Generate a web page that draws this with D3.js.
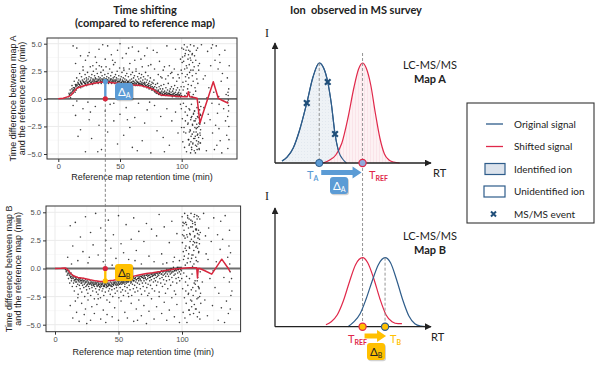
<!DOCTYPE html>
<html><head><meta charset="utf-8">
<script src="https://cdn.jsdelivr.net/npm/d3@7"></script>
<style>body{margin:0;background:#fff}svg{display:block}</style>
</head><body>
<script>
// ---------------- DATA ----------------
const xTicks = [0, 50, 100];
const yTicks = [-5, -2.5, 0, 2.5, 5];
// scatter rows: flat pairs [rt, diff, rt, diff, ...]
const scatterA = [
[8.2,0.2,8.7,0.5,9.3,0.3,9.6,0.8,9.9,0.1,10.4,0.6,10.8,0.4,11.1,1.2,11.5,0.7,11.9,0.5,12.2,1.0,12.6,0.8,12.9,1.6,13.3,0.9,13.6,0.6,13.9,1.3,14.3,1.1,14.6,0.8,14.9,1.9,15.2,1.2,15.6,1.0,15.9,1.5],
[16.3,1.1,16.6,1.7,16.9,1.3,17.3,2.3,17.6,1.2,17.9,1.6,18.2,1.0,18.5,1.4,18.8,2.0,19.2,1.3,19.5,1.7,19.8,1.1,20.1,2.6,20.5,1.5,20.8,1.2,21.1,1.8,21.4,1.4,21.7,2.2,22.1,1.3,22.4,1.6,22.7,1.9,23.0,1.2,23.4,1.5,23.7,2.4,24.0,1.4,24.3,1.8,24.6,1.3,24.9,2.0,25.3,1.6,25.6,1.3,25.9,2.9],
[26.2,1.5,26.5,1.9,26.8,1.4,27.2,2.2,27.5,1.6,27.8,1.3,28.1,1.8,28.4,2.5,28.8,1.5,29.1,1.7,29.4,2.1,29.7,1.4,30.0,1.9,30.4,1.6,30.7,2.7,31.0,1.5,31.3,1.8,31.6,2.3,32.0,1.6,32.3,1.4,32.6,2.0,32.9,1.7,33.2,3.0,33.6,1.5,33.9,1.9,34.2,1.6,34.5,2.4,34.8,1.4,35.2,1.8,35.5,2.1,35.8,1.6],
[36.1,1.7,36.4,2.6,36.7,1.5,37.1,1.9,37.4,1.6,37.7,2.2,38.0,1.4,38.4,1.8,38.7,2.9,39.0,1.6,39.3,2.0,39.6,1.5,40.0,1.7,40.3,2.3,40.6,1.4,40.9,1.9,41.3,1.6,41.6,2.7,41.9,1.5,42.2,1.8,42.5,2.1,42.9,1.6,43.2,1.4,43.5,2.4,43.8,1.7,44.2,1.5,44.5,1.9,44.8,3.1,45.1,1.6,45.5,2.0,45.8,1.4],
[46.1,1.7,46.4,2.2,46.8,1.5,47.1,1.9,47.4,1.3,47.7,2.5,48.0,1.6,48.4,1.8,48.7,1.4,49.0,2.1,49.3,1.6,49.7,2.8,50.0,1.5,50.3,1.8,50.6,1.3,51.0,2.0,51.3,1.5,51.6,2.4,51.9,1.7,52.3,1.4,52.6,1.9,52.9,1.6,53.2,2.6,53.6,1.4,53.9,1.8,54.2,1.5,54.5,2.1,54.9,1.3,55.2,1.7,55.5,2.3,55.8,1.5],
[56.2,1.6,56.5,1.3,56.8,2.0,57.1,1.5,57.5,2.7,57.8,1.4,58.1,1.7,58.4,1.2,58.8,2.2,59.1,1.5,59.4,1.8,59.7,1.3,60.1,2.4,60.4,1.6,60.7,1.4,61.0,1.9,61.4,1.3,61.7,2.1,62.0,1.5,62.3,1.2,62.7,1.7,63.0,2.5,63.3,1.4,63.6,1.6,63.9,1.2,64.3,2.0,64.6,1.5,64.9,1.3,65.2,1.8,65.6,2.3,65.9,1.4],
[66.2,1.2,66.5,1.6,66.9,1.9,67.2,1.3,67.5,2.2,67.8,1.5,68.1,1.2,68.5,1.7,68.8,1.4,69.1,2.0,69.4,1.1,69.8,1.5,70.1,1.3,70.4,1.8,70.7,2.4,71.0,1.2,71.4,1.5,71.7,1.0,72.0,1.7,72.3,1.3,72.7,2.1,73.0,1.1,73.3,1.4,73.6,0.9,74.0,1.6,74.3,1.2,74.6,1.9,74.9,1.0,75.2,1.3,75.6,0.8,75.9,1.5],
[76.2,1.1,76.5,0.8,76.8,1.4,77.2,0.9,77.5,1.7,77.8,0.7,78.1,1.1,78.4,0.6,78.8,1.3,79.1,0.8,79.4,0.5,79.7,1.0,80.0,0.7,80.4,1.4,80.7,0.5,81.0,0.8,81.3,0.4,81.7,1.1,82.0,0.6,82.3,0.4,82.6,0.9,83.0,0.5,83.3,1.2,83.6,0.3,83.9,0.7,84.3,0.4,84.6,0.9,84.9,0.3,85.2,0.6,85.5,1.3,85.9,0.4],
[86.2,0.7,86.5,0.3,86.8,0.5,87.2,1.0,87.5,0.4,87.8,0.6,88.1,0.3,88.5,0.8,88.8,0.4,89.1,1.4,89.4,0.5,89.8,0.3,90.1,0.7,90.4,0.4,90.7,0.9,91.1,0.3,91.4,0.6,91.7,1.1,92.0,0.4,92.4,0.2,92.7,0.7,93.0,0.4,93.3,0.9,93.7,0.3,94.0,0.5,94.3,1.2,94.6,0.3,95.0,0.6,95.3,0.2,95.6,0.8,95.9,0.4,96.3,0.3,96.6,1.0,96.9,0.5,97.2,0.2,97.6,0.6,97.9,0.3,98.2,0.8,98.5,0.4,98.9,0.2,99.2,0.5,99.5,1.1,99.8,0.3],
[9.05,0.4,10.15,0.5,11.05,0.9,12.15,0.8,13.05,1.0,14.15,1.2,15.05,1.3,16.15,1.4,17.05,1.3,18.15,1.5,19.05,1.4,20.15,1.6,21.05,1.5,22.15,1.4,23.05,1.7,24.15,1.5,25.05,1.6,26.15,1.7,27.05,1.5,28.15,1.7,29.05,1.6,30.15,1.8,31.05,1.6,32.15,1.7,33.05,1.8,34.15,1.7,35.05,1.6,36.15,1.8,37.05,1.7,38.15,1.6,39.05,1.8,40.15,1.7,41.05,1.6,42.15,1.7,43.05,1.8,44.15,1.6,45.05,1.7,46.15,1.6,47.05,1.7,48.15,1.5,49.05,1.6,50.15,1.7,51.05,1.5,52.15,1.6,53.05,1.5,54.15,1.6,55.05,1.4,56.15,1.5,57.05,1.6,58.15,1.4,59.05,1.5,60.15,1.4,61.05,1.6,62.15,1.4,63.05,1.3,64.15,1.5,65.05,1.4,66.15,1.3,67.05,1.4,68.15,1.3,69.05,1.2,70.15,1.4,71.05,1.2,72.15,1.1,73.05,1.2,74.15,1.0,75.05,1.1,76.15,0.9,77.05,1.0,78.15,0.8,79.05,0.7,80.15,0.6,81.05,0.7,82.15,0.5,83.05,0.6,84.15,0.5,85.05,0.4,86.15,0.5,87.05,0.3,88.15,0.5,89.05,0.3,90.15,0.5,91.05,0.4,92.15,0.3,93.05,0.5,94.15,0.3,95.05,0.4,96.15,0.2,97.05,0.4,98.15,0.3,99.05,0.2],
[12,4.8,15,4.6,18,3.9,22,3.5,25,4.2,28,3.0,30,3.8,33,4.5,36,4.9,38,3.6,40,4.8,43,4.0,46,3.3,48,4.4,50,5.0,52,3.7,55,4.1,58,3.2,60,4.7,62,3.5,65,4.3,68,2.9,70,3.9,72,4.6,75,3.1,78,2.7,80,4.2,82,3.4,85,2.6,88,4.8,90,3.0,92,2.4,95,4.5,97,2.2,99,3.6,14,3.2,20,2.9,24,3.9,31,3.3,35,2.9,44,3.5,53,2.8,57,4.6,63,2.7,67,3.6,73,3.0,77,4.4,83,2.0,87,1.8,93,1.9,96,1.6,86,2.9,91,2.3,84,1.9,81,2.2,89,2.1,94,2.7,98,1.9],
[12,-0.6,14,-1.5,16,-3.4,18,-2.8,20,-0.9,22,-4.8,25,-1.9,27,-3.6,30,-0.7,33,-2.4,35,-4.6,38,-1.1,40,-3.0,42,-0.5,45,-2.0,48,-4.1,50,-1.4,53,-3.3,55,-0.8,58,-2.6,60,-4.4,62,-1.7,65,-0.4,68,-3.8,70,-2.2,72,-1.0,75,-4.9,78,-0.6,80,-2.9,83,-1.6,85,-3.5,88,-0.9,90,-4.2,92,-2.0,95,-1.2,97,-3.1,99,-0.5,15,-0.2,24,-0.3,45,-0.4,32,-4.8,64,-4.7,86,-4.8,26,-1.2,56,-1.9,74,-0.3],
[100.1,4.6,100.3,2.3,100.5,-1.8,100.7,3.8,100.9,-3.9,101.0,1.5,101.2,0.8,101.4,-0.4,101.6,3.4,101.8,1.1,101.9,-2.6,102.1,4.9,102.3,-4.4,102.4,2.7,102.6,0.3,102.8,-1.2,102.9,4.1,103.1,2.0,103.3,-3.1,103.4,1.6,103.6,-0.7,103.8,3.0,103.9,-4.8,104.1,0.5,104.3,2.8,104.4,4.7,104.6,-1.5,104.8,0.9,104.9,-2.3,105.1,3.6,105.3,1.3,105.4,-3.7,105.6,4.4,105.8,1.9,105.9,-0.9,106.1,3.1,106.3,-4.1,106.4,2.4,106.6,0.6,106.8,-2.8,106.9,3.7,107.1,4.9,107.3,-1.9,107.4,2.6,107.6,-3.4,107.8,1.2,107.9,-0.5,108.1,-4.6,108.3,0.2,108.4,4.0,108.6,2.1,108.8,-2.4,108.9,3.3,109.1,-4.0,109.3,1.6,109.4,0.4,109.6,-1.3,109.8,-3.0,109.9,4.8],
[110.1,2.9,110.3,-1.1,110.4,3.9,110.6,-3.6,110.8,1.0,110.9,-2.0,111.1,-4.9,111.3,0.7,111.4,3.5,111.6,2.3,111.8,-2.7,111.9,4.4,112.1,-4.3,112.3,1.8,112.4,-0.8,112.6,-3.3,112.8,-1.6,112.9,4.6,113.1,1.4,113.3,-1.7,113.4,3.0,113.6,-3.9,113.8,2.6,113.9,-2.5,114.1,-4.5,114.3,-0.3,114.4,3.2,114.6,-2.2,114.8,-3.1,114.9,-4.0,115.1,-1.4,115.3,-2.8],
[105.2,-2.2,105.7,-3.7,106.0,-4.2,106.5,-1.0,107.0,-2.9,107.5,-3.9,107.7,-1.7,108.0,-4.4,108.5,-3.2,108.7,-2.3,109.0,-4.1,109.5,-1.4,109.7,-3.6,110.0,-2.0,110.2,-4.7,110.5,-1.1,110.7,-2.6,111.0,-3.4,111.2,-4.2,111.5,-1.8,111.7,-3.0,112.0,-3.8,112.2,-2.3,112.5,-4.6,112.7,-2.6,113.0,-3.2,113.2,-4.1,113.5,-1.3,113.7,-3.5,114.0,-2.2,114.2,-4.6,114.5,-1.0,114.7,-2.3,115.0,-3.3,115.2,-4.0,115.4,-1.5,115.5,-0.7,106.2,-3.0,107.2,-4.9,108.2,-1.6],
[100.4,3.3,101.5,4.5,102.5,3.9,103.5,4.4,104.5,2.2,105.5,4.0,106.7,4.3,107.4,3.5,108.6,4.1,109.2,2.6,103.0,-2.0,101.7,-3.0,99.7,-0.9,99.9,-2.6,99.6,2.6],
[116,4.9,117,-3.6,118,-0.8,119,2.1,120,-4.7,121,4.3,118.5,-2.2,122,1.0,123,-1.9,124,4.6,125,-3.1,126,0.6,127,3.5,128,4.8,128.5,-4.2,129,-1.3,129.5,2.7,130,0.2,130.3,-0.5,130.6,4.0,130.2,-2.7,131,3.3,131.2,-3.8,132,1.6,132.5,-4.9,133,2.3,134,-0.9,135,4.4,135.5,-2.0,136,0.4,136.5,-3.3,137,1.9,137.2,-0.3,137.5,0.6,137.8,-0.1,138,-1.1,138.2,-2.5,138.5,3.0,137.4,-4.5,138.3,-3.7,137.7,0.3,137.9,-0.6,138.1,0.9,137.3,-1.6,120.5,0.1,124.5,-0.4,126.5,-4.6,123.5,3.0,117.5,1.8,121.5,-1.4,125,4.9,127.5,-2.4]
];
const scatterB = [
[8.3,-0.1,8.8,-0.3,9.2,0.0,9.5,-0.6,9.9,-0.2,10.3,-0.4,10.6,-0.9,10.9,-0.2,11.3,-0.6,11.6,-1.3,11.9,-0.5,12.3,-0.8,12.6,-0.4,12.9,-1.1,13.3,-0.7,13.6,-1.6,13.9,-0.6,14.3,-0.9,14.6,-1.3,14.9,-0.7,15.2,-2.0,15.6,-1.0,15.9,-0.8],
[16.3,-1.2,16.6,-0.9,16.9,-1.6,17.3,-1.0,17.6,-0.8,17.9,-1.4,18.2,-2.3,18.5,-1.1,18.8,-0.9,19.2,-1.5,19.5,-1.0,19.8,-1.8,20.1,-0.9,20.5,-1.3,20.8,-1.1,21.1,-2.1,21.4,-1.0,21.7,-1.5,22.1,-1.2,22.4,-0.9,22.7,-1.7,23.0,-1.1,23.4,-2.5,23.7,-1.3,24.0,-1.0,24.3,-1.6,24.6,-1.2,24.9,-1.9,25.3,-1.1,25.6,-1.4,25.9,-2.2],
[26.2,-1.2,26.5,-1.6,26.8,-1.0,27.2,-1.8,27.5,-1.3,27.8,-1.1,28.1,-2.4,28.4,-1.4,28.8,-1.2,29.1,-1.7,29.4,-1.3,29.7,-2.0,30.0,-1.2,30.4,-1.5,30.7,-1.3,31.0,-2.7,31.3,-1.4,31.6,-1.2,32.0,-1.8,32.3,-1.4,32.6,-2.1,32.9,-1.3,33.2,-1.6,33.6,-1.2,33.9,-2.3,34.2,-1.5,34.5,-1.3,34.8,-1.9,35.2,-1.4,35.5,-1.7,35.8,-2.6],
[36.1,-1.3,36.4,-1.6,36.7,-1.4,37.1,-2.0,37.4,-1.3,37.7,-1.8,38.0,-1.5,38.4,-2.4,38.7,-1.3,39.0,-1.6,39.3,-1.4,39.6,-2.1,40.0,-1.3,40.3,-1.7,40.6,-1.5,40.9,-2.8,41.3,-1.3,41.6,-1.6,41.9,-1.4,42.2,-2.0,42.5,-1.3,42.9,-1.8,43.2,-1.5,43.5,-2.3,43.8,-1.2,44.2,-1.6,44.5,-1.3,44.8,-1.9,45.1,-1.4,45.5,-2.5,45.8,-1.2],
[46.1,-1.5,46.4,-1.3,46.8,-1.8,47.1,-1.2,47.4,-2.2,47.7,-1.4,48.0,-1.2,48.4,-1.7,48.7,-1.3,49.0,-2.0,49.3,-1.1,49.7,-1.5,50.0,-1.2,50.3,-2.6,50.6,-1.4,51.0,-1.1,51.3,-1.7,51.6,-1.3,51.9,-2.1,52.3,-1.0,52.6,-1.4,52.9,-1.2,53.2,-1.9,53.6,-1.1,53.9,-2.4,54.2,-1.3,54.5,-1.0,54.9,-1.6,55.2,-1.2,55.5,-2.0,55.8,-0.9],
[56.2,-1.3,56.5,-1.1,56.8,-1.7,57.1,-0.9,57.5,-2.2,57.8,-1.2,58.1,-1.0,58.4,-1.5,58.8,-0.9,59.1,-1.9,59.4,-1.1,59.7,-1.3,60.1,-0.8,60.4,-2.4,60.7,-1.0,61.0,-1.4,61.4,-0.8,61.7,-1.8,62.0,-1.1,62.3,-0.9,62.7,-1.5,63.0,-2.1,63.3,-0.8,63.6,-1.2,63.9,-1.0,64.3,-1.7,64.6,-0.7,64.9,-1.3,65.2,-2.0,65.6,-0.9,65.9,-1.1],
[66.2,-0.7,66.5,-1.4,66.9,-0.9,67.2,-1.8,67.5,-0.7,67.8,-1.1,68.1,-2.3,68.5,-0.8,68.8,-1.3,69.1,-0.6,69.4,-1.6,69.8,-0.9,70.1,-1.1,70.4,-0.6,70.7,-2.0,71.0,-0.8,71.4,-1.3,71.7,-0.6,72.0,-1.0,72.3,-1.7,72.7,-0.5,73.0,-0.9,73.3,-1.4,73.6,-0.6,74.0,-2.2,74.3,-0.8,74.6,-1.1,74.9,-0.5,75.2,-1.5,75.6,-0.7,75.9,-1.0],
[76.2,-0.5,76.5,-1.8,76.8,-0.7,77.2,-0.4,77.5,-1.2,77.8,-0.6,78.1,-0.9,78.4,-2.0,78.8,-0.5,79.1,-1.1,79.4,-0.4,79.7,-0.8,80.0,-1.5,80.4,-0.4,80.7,-0.7,81.0,-1.2,81.3,-0.3,81.7,-0.6,82.0,-2.1,82.3,-0.4,82.6,-0.9,83.0,-0.3,83.3,-1.3,83.6,-0.5,83.9,-0.2,84.3,-0.8,84.6,-1.6,84.9,-0.3,85.2,-0.6,85.5,-1.0,85.9,-0.2],
[86.2,-0.5,86.5,-1.4,86.8,-0.2,87.2,-0.7,87.5,-0.3,87.8,-1.1,88.1,-0.1,88.5,-0.5,88.8,-1.8,89.1,-0.2,89.4,-0.7,89.8,-0.1,90.1,-1.0,90.4,-0.3,90.7,-0.5,91.1,-1.5,91.4,0.0,91.7,-0.4,92.0,-0.8,92.4,-0.1,92.7,-1.2,93.0,-0.3,93.3,0.1,93.7,-0.6,94.0,-2.0,94.3,-0.2,94.6,-0.5,95.0,0.0,95.3,-0.9,95.6,-0.2,95.9,-1.3,96.3,0.1,96.6,-0.4,96.9,-0.1,97.2,-0.8,97.6,0.1,97.9,-0.3,98.2,-1.1,98.5,0.0,98.9,-0.5,99.2,0.1,99.5,-0.2,99.8,-0.9],
[9.05,-0.2,10.15,-0.5,11.05,-0.4,12.15,-0.7,13.05,-0.9,14.15,-0.8,15.05,-1.1,16.15,-1.0,17.05,-1.2,18.15,-1.0,19.05,-1.2,20.15,-1.1,21.05,-1.3,22.15,-1.1,23.05,-1.4,24.15,-1.2,25.05,-1.5,26.15,-1.3,27.05,-1.4,28.15,-1.3,29.05,-1.5,30.15,-1.4,31.05,-1.6,32.15,-1.3,33.05,-1.5,34.15,-1.4,35.05,-1.6,36.15,-1.5,37.05,-1.4,38.15,-1.6,39.05,-1.5,40.15,-1.4,41.05,-1.6,42.15,-1.5,43.05,-1.4,44.15,-1.5,45.05,-1.6,46.15,-1.4,47.05,-1.3,48.15,-1.5,49.05,-1.4,50.15,-1.3,51.05,-1.4,52.15,-1.2,53.05,-1.3,54.15,-1.2,55.05,-1.4,56.15,-1.1,57.05,-1.2,58.15,-1.1,59.05,-1.0,60.15,-1.2,61.05,-1.0,62.15,-1.1,63.05,-0.9,64.15,-1.0,65.05,-0.9,66.15,-0.8,67.05,-1.0,68.15,-0.7,69.05,-0.8,70.15,-0.7,71.05,-0.9,72.15,-0.6,73.05,-0.7,74.15,-0.6,75.05,-0.8,76.15,-0.5,77.05,-0.6,78.15,-0.5,79.05,-0.6,80.15,-0.4,81.05,-0.5,82.15,-0.4,83.05,-0.3,84.15,-0.5,85.05,-0.3,86.15,-0.2,87.05,-0.4,88.15,-0.2,89.05,-0.3,90.15,-0.1,91.05,-0.2,92.15,-0.3,93.05,-0.1,94.15,-0.2,95.05,-0.1,96.15,0.0,97.05,-0.1,98.15,0.0,99.05,-0.1],
[12,-3.3,14,-4.4,16,-2.9,17,-3.9,19,-4.7,21,-3.1,23,-4.1,24,-3.6,26,-2.8,28,-4.6,29,-3.4,31,-4.0,33,-3.2,36,-4.5,38,-3.7,40,-4.8,43,-3.0,45,-4.3,47,-3.5,50,-4.6,52,-2.9,55,-3.9,57,-4.4,60,-3.1,62,-4.7,64,-3.6,66,-2.8,68,-4.2,70,-3.3,72,-4.9,74,-3.8,76,-2.7,78,-4.5,80,-3.4,82,-2.5,84,-4.0,86,-3.0,88,-4.6,90,-3.7,92,-2.6,94,-4.3,96,-3.2,98,-4.8,18,-2.6,34,-2.7,58,-2.5,73,-2.4,87,-2.2,95,-2.3,25,-4.9,41,-4.1,65,-4.6],
[10,1.0,12,3.8,14,2.0,16,4.1,18,0.7,20,2.8,22,1.5,24,4.6,26,0.5,28,3.2,30,2.1,32,4.9,34,1.2,36,3.6,38,0.6,40,2.5,42,4.3,44,1.8,46,3.0,48,0.9,50,4.7,52,2.2,54,1.4,56,3.9,58,0.8,60,2.6,62,4.5,64,1.6,66,3.3,68,0.4,70,2.4,72,4.0,74,1.1,76,3.5,78,0.6,80,2.9,82,4.8,84,1.3,86,3.7,88,0.5,90,2.3,92,4.2,94,1.0,96,3.1,98,0.7,13,0.4,27,1.0,45,0.3,63,0.7,85,0.4,93,0.6],
[100.1,4.6,100.3,2.3,100.5,-1.8,100.7,3.8,100.9,-3.9,101.0,1.5,101.2,0.8,101.4,-0.4,101.6,3.4,101.8,1.1,101.9,-2.6,102.1,4.9,102.3,-4.4,102.4,2.7,102.6,0.3,102.8,-1.2,102.9,4.1,103.1,2.0,103.3,-3.1,103.4,1.6,103.6,-0.7,103.8,3.0,103.9,-4.8,104.1,0.5,104.3,2.8,104.4,4.7,104.6,-1.5,104.8,0.9,104.9,-2.3,105.1,3.6,105.3,1.3,105.4,-3.7,105.6,4.4,105.8,1.9,105.9,-0.9,106.1,3.1,106.3,-4.1,106.4,2.4,106.6,0.6,106.8,-2.8,106.9,3.7,107.1,4.9,107.3,-1.9,107.4,2.6,107.6,-3.4,107.8,1.2,107.9,-0.5,108.1,4.2,108.3,0.2,108.4,4.0,108.6,2.1,108.8,-2.4,108.9,3.3,109.1,-4.0,109.3,1.6,109.4,0.4,109.6,-1.3,109.8,2.8,109.9,4.8],
[110.1,2.9,110.3,-1.1,110.4,3.9,110.6,-3.6,110.8,1.0,110.9,-2.0,111.1,3.4,111.3,0.7,111.4,3.5,111.6,2.3,111.8,-2.7,111.9,4.4,112.1,-4.3,112.3,1.8,112.4,-0.8,112.6,2.7,112.8,-1.6,112.9,4.6,113.1,1.4,113.3,-1.7,113.4,3.0,113.6,-3.9,113.8,2.6,113.9,-2.5,114.1,-4.5,114.3,-0.3,114.4,3.2,114.6,-2.2,114.8,-3.1],
[105.2,-2.2,105.7,-3.7,106.0,1.8,106.5,3.0,107.0,4.3,107.5,0.9,107.7,-2.9,108.0,3.7,108.5,-1.7,108.7,1.2,109.0,2.4,109.5,4.6,109.7,-3.2,110.0,2.3,110.2,4.1,110.5,-1.4,110.7,3.5,111.0,1.9,111.2,-3.6,111.5,2.0,111.7,4.7,112.0,-1.1,112.2,3.1,112.5,0.6,112.7,-2.6,113.0,3.4,113.2,1.5,113.5,-1.8,113.7,2.2,114.0,4.4,103.0,-2.0,101.7,4.0,102.5,1.8,103.5,3.9,104.5,4.5,100.4,3.0,101.5,2.9,100.8,4.1],
[117,4.9,118,-2.8,119,1.3,120,-4.2,121,3.6,122,-0.9,123,2.4,124,-3.3,125,4.5,126,-1.7,127,0.6,128,3.0,128.5,-4.6,129,-2.2,130,1.7,130.5,4.2,131,-3.5,132,2.6,133,-0.8,134,4.7,135,-2.9,136,1.0,136.5,-4.0,137,2.0,137.3,-1.2,137.6,0.4,137.9,-0.3,138.2,1.4,138.5,-2.4,137.4,3.4,138,-3.6,139,-0.9,120.5,0.8,124.5,-0.2,116,-1.2,118.5,2.9,133.5,-4.8,139.3,-2.0]
];
const shiftLineA = [[0,0],[4,0.05],[8,0.2],[10,0.3],[13,0.7],[15,0.95],[18,1.1],[23,1.25],[28,1.4],[34,1.5],[40,1.5],[44,1.45],
[50,1.38],[55,1.32],[61,1.25],[67,1.2],[72,1.05],[77,0.85],[80,0.6],[83,0.35],[88,0.3],[93,0.25],[98,0.22],[103,0.18],
[104.5,0.2],[105.4,0.64],[106.5,0.2],[110,0.12],[112.5,0.05],[114.8,-2.2],[117,-1.4],[125.6,1.55],[129.7,0.04],[133,-0.15],[137.8,-0.4]];
const shiftLineB = [[0,0],[5,0.02],[8,0.05],[10,-0.1],[12,-0.4],[14.4,-0.65],[18,-0.8],[22.3,-0.86],[27.6,-1.0],[32,-1.1],
[35.4,-1.15],[38,-1.15],[42,-1.1],[46,-1.05],[50,-0.95],[55,-0.85],[61.4,-0.7],[67,-0.56],[72,-0.45],[77,-0.38],[82.7,-0.27],
[88,-0.15],[94,-0.05],[101,0.03],[106,0.06],[111.6,0.06],[112.2,-0.85],[112.8,0.0],[114,0.0],[118,-0.2],[123.4,-0.5],
[131.3,0.83],[136.5,0.0],[137.8,-0.27]];
const deltaA = {rt: 38.1, diff: 1.57};
const deltaB = {rt: 39.6, diff: -1.1};
// schematic peaks: [RT, intensity]
const originalA = [[4.6,0.02],[8,0.06],[12,0.15],[16,0.32],[20.9,0.6],[25,0.86],[29.1,1.0],[32,0.95],[34.7,0.81],[37,0.6],[39.5,0.29],[42,0.11],[45,0.03],[47,0.0]];
const shiftedA = [[31.6,0.0],[36,0.03],[40,0.08],[44,0.2],[48,0.45],[52,0.76],[55,0.94],[57.6,1.0],[60,0.95],[63,0.78],[66,0.5],[69,0.25],[72,0.09],[75,0.03],[78,0.01],[82,0.0]];
const msmsA = [[20.9,0.6],[34.7,0.81],[39.5,0.29]];
const shiftedB = [[33.5,0.02],[37,0.05],[41,0.12],[45,0.26],[49,0.45],[53,0.62],[57.6,0.69],[61,0.64],[65,0.48],[69,0.28],[73,0.12],[77,0.05],[81,0.03],[83.5,0.03]];
const originalB = [[48,0.0],[52,0.05],[56,0.13],[60,0.28],[64,0.46],[68,0.62],[72.4,0.69],[76,0.64],[80,0.47],[84,0.27],[88,0.11],[92,0.03],[96,0.005],[99,0.0]];
const rtA = {orig: 29.1, ref: 57.6};
const rtB = {ref: 57.6, orig: 72.4};
const legendItems = ["Original signal","Shifted signal","Identified ion","Unidentified ion","MS/MS event"];

// ---------------- DRAW ----------------
const W = 602, H = 365;
const svg = d3.select("body").append("svg").attr("width", W).attr("height", H);
svg.append("rect").attr("width", W).attr("height", H).attr("fill", "#fff");
const defs = svg.append("defs");
const pd = defs.append("pattern").attr("id","dotsBlue").attr("width",3).attr("height",3).attr("patternUnits","userSpaceOnUse");
pd.append("rect").attr("width",3).attr("height",3).attr("fill","#EEF2F6");
pd.append("circle").attr("cx",1.5).attr("cy",1.5).attr("r",0.4).attr("fill","#D3DCE6");
const ps = defs.append("pattern").attr("id","stripesRed").attr("width",3).attr("height",3).attr("patternUnits","userSpaceOnUse");
ps.append("rect").attr("width",3).attr("height",3).attr("fill","#FDF1F3");
ps.append("line").attr("x1",1.5).attr("x2",1.5).attr("y1",0).attr("y2",3).attr("stroke","#F9DCE2").attr("stroke-width",0.6);
const mk = defs.append("marker").attr("id","arrowK").attr("viewBox","0 0 10 10").attr("refX",9).attr("refY",5)
  .attr("markerWidth",7).attr("markerHeight",7).attr("markerUnits","userSpaceOnUse").attr("orient","auto");
mk.append("path").attr("d","M0,0L10,5L0,10Z").attr("fill","#222");

const RED = "#D7263D", BLUE = "#5B9BD5", DBLUE = "#2E5C8A", YEL = "#FFC000", SRED = "#E0284A";
const GG = "'Liberation Sans', Arial, sans-serif";
const CAL = "Lato, 'Open Sans', sans-serif";

function toPairs(rows){
  const out = [];
  rows.forEach(r => { for (let i = 0; i + 1 < r.length; i += 2) out.push([r[i], r[i+1]]); });
  return out;
}

function scatterPanel(cfg){
  const {x, y, data, line, left, right, top, bottom, ylab1, ylab2, ylx1, ylx2} = cfg;
  const g = svg.append("g");
  [25,75,125].forEach(v => g.append("line").attr("x1",x(v)).attr("x2",x(v)).attr("y1",top).attr("y2",bottom).attr("stroke","#F3F3F3").attr("stroke-width",0.5));
  [-3.75,-1.25,1.25,3.75].forEach(v => g.append("line").attr("y1",y(v)).attr("y2",y(v)).attr("x1",left).attr("x2",right).attr("stroke","#F3F3F3").attr("stroke-width",0.5));
  xTicks.forEach(v => g.append("line").attr("x1",x(v)).attr("x2",x(v)).attr("y1",top).attr("y2",bottom).attr("stroke","#EBEBEB").attr("stroke-width",1));
  yTicks.forEach(v => g.append("line").attr("y1",y(v)).attr("y2",y(v)).attr("x1",left).attr("x2",right).attr("stroke","#EBEBEB").attr("stroke-width",1));
  g.append("line").attr("x1",left).attr("x2",right).attr("y1",y(0)).attr("y2",y(0)).attr("stroke","#6E6E6E").attr("stroke-width",1.8);
  const pts = toPairs(data);
  g.append("g").selectAll("circle").data(pts).join("circle")
    .attr("cx", d => x(d[0])).attr("cy", d => y(d[1])).attr("r", 0.8).attr("fill", "#1a1a1a").attr("opacity", 0.85);
  g.append("path").datum(line).attr("d", d3.line().x(d => x(d[0])).y(d => y(d[1])))
    .attr("fill","none").attr("stroke",RED).attr("stroke-width",1.5).attr("stroke-linejoin","round");
  g.append("rect").attr("x",left).attr("y",top).attr("width",right-left).attr("height",bottom-top)
    .attr("fill","none").attr("stroke","#333").attr("stroke-width",1);
  const ax = g.append("g").attr("transform",`translate(0,${bottom})`).call(d3.axisBottom(x).tickValues(xTicks).tickSize(3).tickPadding(2).tickFormat(d3.format("d")));
  const ay = g.append("g").attr("transform",`translate(${left},0)`).call(d3.axisLeft(y).tickValues(yTicks).tickSize(3).tickPadding(2).tickFormat(d3.format(".1f")));
  [ax, ay].forEach(a => { a.select(".domain").remove(); a.selectAll("line").attr("stroke","#333");
    a.selectAll("text").attr("fill","#4D4D4D").style("font-family",GG).style("font-size","7.5px"); });
  g.append("text").attr("x",(left+right)/2).attr("y",cfg.xlabY).attr("text-anchor","middle")
    .style("font-family",GG).style("font-size","9px").attr("fill","#222").text("Reference map retention time (min)");
  const cy = (top+bottom)/2;
  g.append("text").attr("transform",`translate(${ylx1},${cy}) rotate(-90)`).attr("text-anchor","middle")
    .style("font-family",GG).style("font-size","9px").attr("fill","#222").text(ylab1);
  g.append("text").attr("transform",`translate(${ylx2},${cy}) rotate(-90)`).attr("text-anchor","middle")
    .style("font-family",GG).style("font-size","9px").attr("fill","#222").text(ylab2);
  return g;
}

const xA = d3.scaleLinear().domain([0,100]).range([58.3,181.7]);
const yA = d3.scaleLinear().domain([-5,5]).range([154,43.7]);
const xB = d3.scaleLinear().domain([0,100]).range([55,182]);
const yB = d3.scaleLinear().domain([-5,5]).range([324.7,212.3]);

scatterPanel({x:xA, y:yA, data:scatterA, line:shiftLineA, left:47, right:237, top:38, bottom:159, xlabY:180,
  ylab1:"Time difference between map A", ylab2:"and the reference map (min)", ylx1:16, ylx2:25});
scatterPanel({x:xB, y:yB, data:scatterB, line:shiftLineB, left:46, right:240.6, top:206, bottom:331.7, xlabY:355,
  ylab1:"Time difference between map B", ylab2:"and the reference map (min)", ylx1:12, ylx2:21});

const dx = xA(deltaA.rt);
svg.append("line").attr("x1",dx).attr("x2",dx).attr("y1",yA(0)).attr("y2",yB(0))
  .attr("stroke","#777").attr("stroke-width",0.9).attr("stroke-dasharray","3,2");

function deltaBox(x0, y0, fill, txtCol, sub){
  const g = svg.append("g");
  g.append("rect").attr("x",x0+1).attr("y",y0+1.2).attr("width",18).attr("height",17).attr("rx",3).attr("fill","#000").attr("opacity",0.18);
  g.append("rect").attr("x",x0).attr("y",y0).attr("width",18).attr("height",17).attr("rx",3).attr("fill",fill);
  const t = g.append("text").attr("x",x0+3).attr("y",y0+12.5).style("font-family",CAL).attr("fill",txtCol);
  t.append("tspan").style("font-size","11.5px").text("Δ");
  t.append("tspan").style("font-size","7px").attr("dy",2.5).text(sub);
}
svg.append("line").attr("x1",dx).attr("x2",dx).attr("y1",yA(0)).attr("y2",yA(deltaA.diff)).attr("stroke",BLUE).attr("stroke-width",2.4);
svg.append("circle").attr("cx",dx).attr("cy",yA(deltaA.diff)).attr("r",2.6).attr("fill",BLUE);
svg.append("circle").attr("cx",dx).attr("cy",yA(0)).attr("r",2.6).attr("fill",RED);
deltaBox(115,83,BLUE,"#fff","A");
const dxB = xB(deltaB.rt);
svg.append("line").attr("x1",dxB).attr("x2",dxB).attr("y1",yB(0)).attr("y2",yB(deltaB.diff)).attr("stroke",YEL).attr("stroke-width",2.4);
svg.append("circle").attr("cx",dxB).attr("cy",yB(deltaB.diff)).attr("r",2.6).attr("fill",YEL);
svg.append("circle").attr("cx",dxB).attr("cy",yB(0)).attr("r",2.6).attr("fill",RED);
deltaBox(115,264,YEL,"#222","B");

svg.append("text").attr("x",145).attr("y",14).attr("text-anchor","middle").style("font-family",CAL).style("font-weight","bold").style("font-size","11px").attr("fill","#222").text("Time shifting");
svg.append("text").attr("x",145).attr("y",27).attr("text-anchor","middle").style("font-family",CAL).style("font-weight","bold").style("font-size","11px").attr("fill","#222").text("(compared to reference map)");
svg.append("text").attr("x",356).attr("y",14).attr("text-anchor","middle").style("font-family",CAL).style("font-weight","bold").style("font-size","11px").attr("fill","#222").attr("xml:space","preserve").text("Ion  observed in MS survey");

// ---------------- schematic ----------------
const sx = d3.scaleLinear().domain([0,100]).range([275,427]);
const syA = d3.scaleLinear().domain([0,1]).range([163,63]);
const syB = d3.scaleLinear().domain([0,1]).range([326.7,226.7]);
const curve = d3.curveMonotoneX;

function axes(ys, topY){
  svg.append("line").attr("x1",sx(0)).attr("x2",sx(0)).attr("y1",ys(0)).attr("y2",topY).attr("stroke","#222").attr("stroke-width",1.3).attr("marker-end","url(#arrowK)");
  svg.append("line").attr("x1",sx(0)).attr("x2",431).attr("y1",ys(0)).attr("y2",ys(0)).attr("stroke","#222").attr("stroke-width",1.3).attr("marker-end","url(#arrowK)");
}
function peak(data, ys, stroke, fill){
  if (fill) svg.append("path").datum(data).attr("d", d3.area().curve(curve).x(d=>sx(d[0])).y0(ys(0)).y1(d=>ys(d[1]))).attr("fill",fill);
  svg.append("path").datum(data).attr("d", d3.line().curve(curve).x(d=>sx(d[0])).y(d=>ys(d[1]))).attr("fill","none").attr("stroke",stroke).attr("stroke-width",1.2);
}
function dash(x, y1, y2){
  svg.append("line").attr("x1",x).attr("x2",x).attr("y1",y1).attr("y2",y2).attr("stroke","#888").attr("stroke-width",0.9).attr("stroke-dasharray","3,2");
}
function tLabel(x, y, col, sub){
  const t = svg.append("text").attr("x",x).attr("y",y).style("font-family",CAL).attr("fill",col);
  t.append("tspan").style("font-size","11px").text("T");
  t.append("tspan").style("font-size","7px").style("font-weight","bold").attr("dy",2).text(sub);
}
function arrowShape(x1, x2, yc, col){
  const hw = 2.6, hh = 6, hl = 9;
  svg.append("path").attr("d",`M${x1},${yc-hw}L${x2-hl},${yc-hw}L${x2-hl},${yc-hh}L${x2},${yc}L${x2-hl},${yc+hh}L${x2-hl},${yc+hw}L${x1},${yc+hw}Z`).attr("fill",col);
}

peak(originalA, syA, DBLUE, "url(#dotsBlue)");
peak(shiftedA, syA, SRED, "url(#stripesRed)");
svg.append("path").datum(originalA).attr("d", d3.line().curve(curve).x(d=>sx(d[0])).y(d=>syA(d[1]))).attr("fill","none").attr("stroke",DBLUE).attr("stroke-width",1.1);
dash(sx(rtA.orig), syA(1), syA(0));
dash(sx(rtA.ref), 53, syB(0));
axes(syA, 43);
svg.selectAll(null).data(msmsA).join("path")
  .attr("d", d => { const cx = sx(d[0]), cy = syA(d[1]), s = 2.8; return `M${cx-s},${cy-s}L${cx+s},${cy+s}M${cx-s},${cy+s}L${cx+s},${cy-s}`; })
  .attr("stroke","#1F4E79").attr("stroke-width",2.2);
svg.append("circle").attr("cx",sx(rtA.orig)).attr("cy",syA(0)).attr("r",3.6).attr("fill",BLUE).attr("stroke",DBLUE).attr("stroke-width",1);
svg.append("circle").attr("cx",sx(rtA.ref)).attr("cy",syA(0)).attr("r",3.6).attr("fill","#8FAADC").attr("stroke",SRED).attr("stroke-width",1.2);
tLabel(307, 179, BLUE, "A");
tLabel(369, 179, SRED, "REF");
arrowShape(sx(rtA.orig)+2, sx(rtA.ref)-1, 172.5, BLUE);
deltaBox(330,177,BLUE,"#fff","A");
svg.append("text").attr("x",265).attr("y",37).style("font-family","'Liberation Serif', serif").style("font-size","12px").attr("fill","#222").text("I");
svg.append("text").attr("x",433).attr("y",177).style("font-family",CAL).style("font-size","11px").attr("fill","#222").text("RT");
svg.append("text").attr("x",430).attr("y",69).attr("text-anchor","middle").style("font-family",CAL).style("font-size","11px").attr("fill","#222").text("LC-MS/MS");
svg.append("text").attr("x",430).attr("y",83).attr("text-anchor","middle").style("font-family",CAL).style("font-weight","bold").style("font-size","11px").attr("fill","#222").text("Map A");

peak(shiftedB, syB, SRED, null);
peak(originalB, syB, DBLUE, null);
dash(sx(rtB.orig), syB(0.69), syB(0));
axes(syB, 208);
svg.append("circle").attr("cx",sx(rtB.ref)).attr("cy",syB(0)).attr("r",3.6).attr("fill",YEL).attr("stroke",SRED).attr("stroke-width",1.2);
svg.append("circle").attr("cx",sx(rtB.orig)).attr("cy",syB(0)).attr("r",3.6).attr("fill",YEL).attr("stroke",DBLUE).attr("stroke-width",1.2);
tLabel(348, 343, SRED, "REF");
tLabel(390, 343, YEL, "B");
arrowShape(sx(rtB.ref)+2, sx(rtB.orig)+1, 336, YEL);
deltaBox(367,343,YEL,"#222","B");
svg.append("text").attr("x",265).attr("y",200).style("font-family","'Liberation Serif', serif").style("font-size","12px").attr("fill","#222").text("I");
svg.append("text").attr("x",431).attr("y",341).style("font-family",CAL).style("font-size","11px").attr("fill","#222").text("RT");
svg.append("text").attr("x",430).attr("y",240).attr("text-anchor","middle").style("font-family",CAL).style("font-size","11px").attr("fill","#222").text("LC-MS/MS");
svg.append("text").attr("x",430).attr("y",254).attr("text-anchor","middle").style("font-family",CAL).style("font-weight","bold").style("font-size","11px").attr("fill","#222").text("Map B");

// ---------------- legend ----------------
const lg = svg.append("g");
lg.append("rect").attr("x",467).attr("y",103).attr("width",127).attr("height",120).attr("fill","#fff").attr("stroke","#333").attr("stroke-width",1.1);
const ly = d3.scalePoint().domain(legendItems).range([124,214]);
lg.selectAll("text").data(legendItems).join("text").attr("x",514).attr("y",d=>ly(d)+3.5)
  .style("font-family",CAL).style("font-size","10px").attr("fill","#222").text(d=>d);
const li = legendItems;
lg.append("line").attr("x1",486).attr("x2",503).attr("y1",ly(li[0])).attr("y2",ly(li[0])).attr("stroke",DBLUE).attr("stroke-width",1.3);
lg.append("line").attr("x1",486).attr("x2",503).attr("y1",ly(li[1])).attr("y2",ly(li[1])).attr("stroke",SRED).attr("stroke-width",1.3);
lg.append("rect").attr("x",485).attr("y",ly(li[2])-5.5).attr("width",20).attr("height",11).attr("fill","#DCE3EC").attr("stroke",DBLUE).attr("stroke-width",1.2);
lg.append("rect").attr("x",484).attr("y",ly(li[3])-5.5).attr("width",21).attr("height",11).attr("fill","#fff").attr("stroke",DBLUE).attr("stroke-width",1.2);
const mx = 493.5, my = ly(li[4]), s = 2.5;
lg.append("path").attr("d",`M${mx-s},${my-s}L${mx+s},${my+s}M${mx-s},${my+s}L${mx+s},${my-s}`).attr("stroke","#1F4E79").attr("stroke-width",2);
</script>
</body></html>
